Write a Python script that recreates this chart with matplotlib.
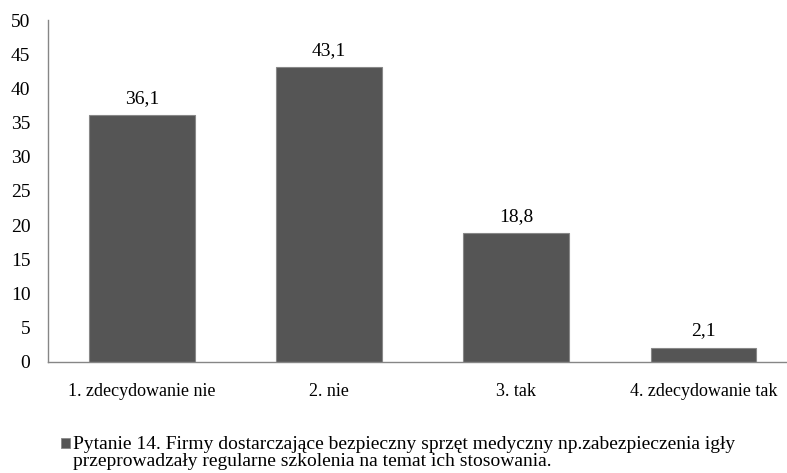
import matplotlib.pyplot as plt
from matplotlib.patches import Rectangle

# answer categories and percentages
categories = ['1. zdecydowanie nie', '2. nie', '3. tak', '4. zdecydowanie tak']
values = [36.1, 43.1, 18.8, 2.1]
series_name = ['Pytanie 14. Firmy dostarczające bezpieczny sprzęt medyczny np.zabezpieczenia igły',
               'przeprowadzały regularne szkolenia na temat ich stosowania.']
yticks = [0, 5, 10, 15, 20, 25, 30, 35, 40, 45, 50]

plt.rcParams['font.family'] = ['Liberation Serif', 'DejaVu Serif']

fig = plt.figure(figsize=(7.87, 4.73), dpi=100)
ax = fig.add_axes([0.0616, 0.2347, 0.951, 0.723])

x = range(len(categories))
bars = ax.bar(x, values, width=0.565, color='#555555', edgecolor='#888888',
              linewidth=0.8)
ax.bar_label(bars, labels=[f'{v:.1f}'.replace('.', ',') for v in values],
             padding=6, fontsize=14)

ax.set_xlim(-0.5, 3.5)
ax.set_ylim(0, 50)
ax.set_yticks(yticks)
ax.set_xticks(list(x))
ax.set_xticklabels(categories)
ax.tick_params(axis='y', length=0, pad=13, labelsize=14)
ax.tick_params(axis='x', length=0, pad=15, labelsize=13)

for s in ['top', 'right']:
    ax.spines[s].set_visible(False)
for s in ['left', 'bottom']:
    ax.spines[s].set_color('#868686')
    ax.spines[s].set_linewidth(1)

# legend: square marker + two-line series name
W, H = 787, 473
fig.patches.append(Rectangle((61 / W, 1 - 448 / H), 9 / W, 10 / H,
                             transform=fig.transFigure, facecolor='#555555',
                             edgecolor='#888888', linewidth=0.6))
fig.text(73 / W, 1 - 449 / H, series_name[0], fontsize=14, va='baseline')
fig.text(73 / W, 1 - 466 / H, series_name[1], fontsize=14, va='baseline')

fig.savefig('out.png', dpi=100)
